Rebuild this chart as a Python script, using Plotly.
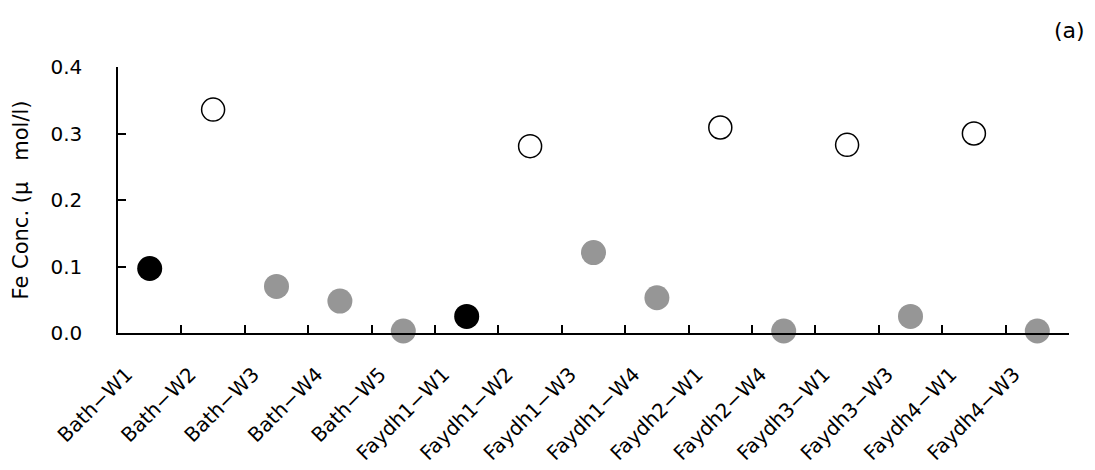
import plotly.graph_objects as go

categories = ["Bath−W1", "Bath−W2", "Bath−W3", "Bath−W4", "Bath−W5",
              "Faydh1−W1", "Faydh1−W2", "Faydh1−W3", "Faydh1−W4",
              "Faydh2−W1", "Faydh2−W4", "Faydh3−W1", "Faydh3−W3",
              "Faydh4−W1", "Faydh4−W3"]

black_vals = [0.097, None, None, None, None, 0.025, None, None, None,
              None, None, None, None, None, None]
open_vals = [None, 0.336, None, None, None, None, 0.281, None, None,
             0.309, None, 0.283, None, 0.300, None]
gray_vals = [None, None, 0.070, 0.048, 0.003, None, None, 0.121, 0.053,
             None, 0.003, None, 0.025, None, 0.003]

y_ticks = [0.0, 0.1, 0.2, 0.3, 0.4]
y_title = "Fe Conc. (μ\u3000mol/l)"
panel_label = "(a)"

FONT = "DejaVu Sans"

fig = go.Figure()
fig.add_trace(go.Scatter(x=categories, y=black_vals, mode="markers",
                         marker=dict(size=25, color="black"),
                         cliponaxis=False, showlegend=False))
fig.add_trace(go.Scatter(x=categories, y=open_vals, mode="markers",
                         marker=dict(size=23, color="white",
                                     line=dict(color="black", width=1.5)),
                         cliponaxis=False, showlegend=False))
fig.add_trace(go.Scatter(x=categories, y=gray_vals, mode="markers",
                         marker=dict(size=25, color="rgb(150,150,150)"),
                         cliponaxis=False, showlegend=False))

# the page body adds an 8px offset, so the figure is 8px smaller than the window
fig.update_layout(
    width=1087, height=462,
    margin=dict(l=110, r=26, t=59, b=137),
    paper_bgcolor="white", plot_bgcolor="white",
    font=dict(family=FONT, size=20, color="black"),
    xaxis=dict(type="category", categoryorder="array", categoryarray=categories,
               range=[-0.5, len(categories) - 0.5], automargin=False,
               tickson="boundaries", ticks="inside", ticklen=8, tickwidth=1.5,
               tickcolor="black", showline=True, linecolor="black", linewidth=1.5,
               showgrid=False, zeroline=False, tickangle=-45,
               ticklabelstandoff=20, ticklabelshift=-23,
               tickfont=dict(family=FONT, size=20)),
    yaxis=dict(range=[0, 0.4], tickvals=y_ticks, automargin=False,
               ticktext=[f"{v:.1f}" for v in y_ticks],
               ticks="inside", ticklen=8, tickwidth=1.5, tickcolor="black",
               showline=True, linecolor="black", linewidth=1.5,
               showgrid=False, zeroline=False, ticklabelstandoff=30,
               title=dict(text=y_title, font=dict(family=FONT, size=21), standoff=16),
               tickfont=dict(family=FONT, size=20)),
    annotations=[dict(text=panel_label, xref="paper", yref="paper",
                      x=1.0, y=1.0, xanchor="center", yanchor="middle",
                      xshift=0, yshift=37, showarrow=False,
                      font=dict(family=FONT, size=22))],
)

fig.write_html("out.html")
